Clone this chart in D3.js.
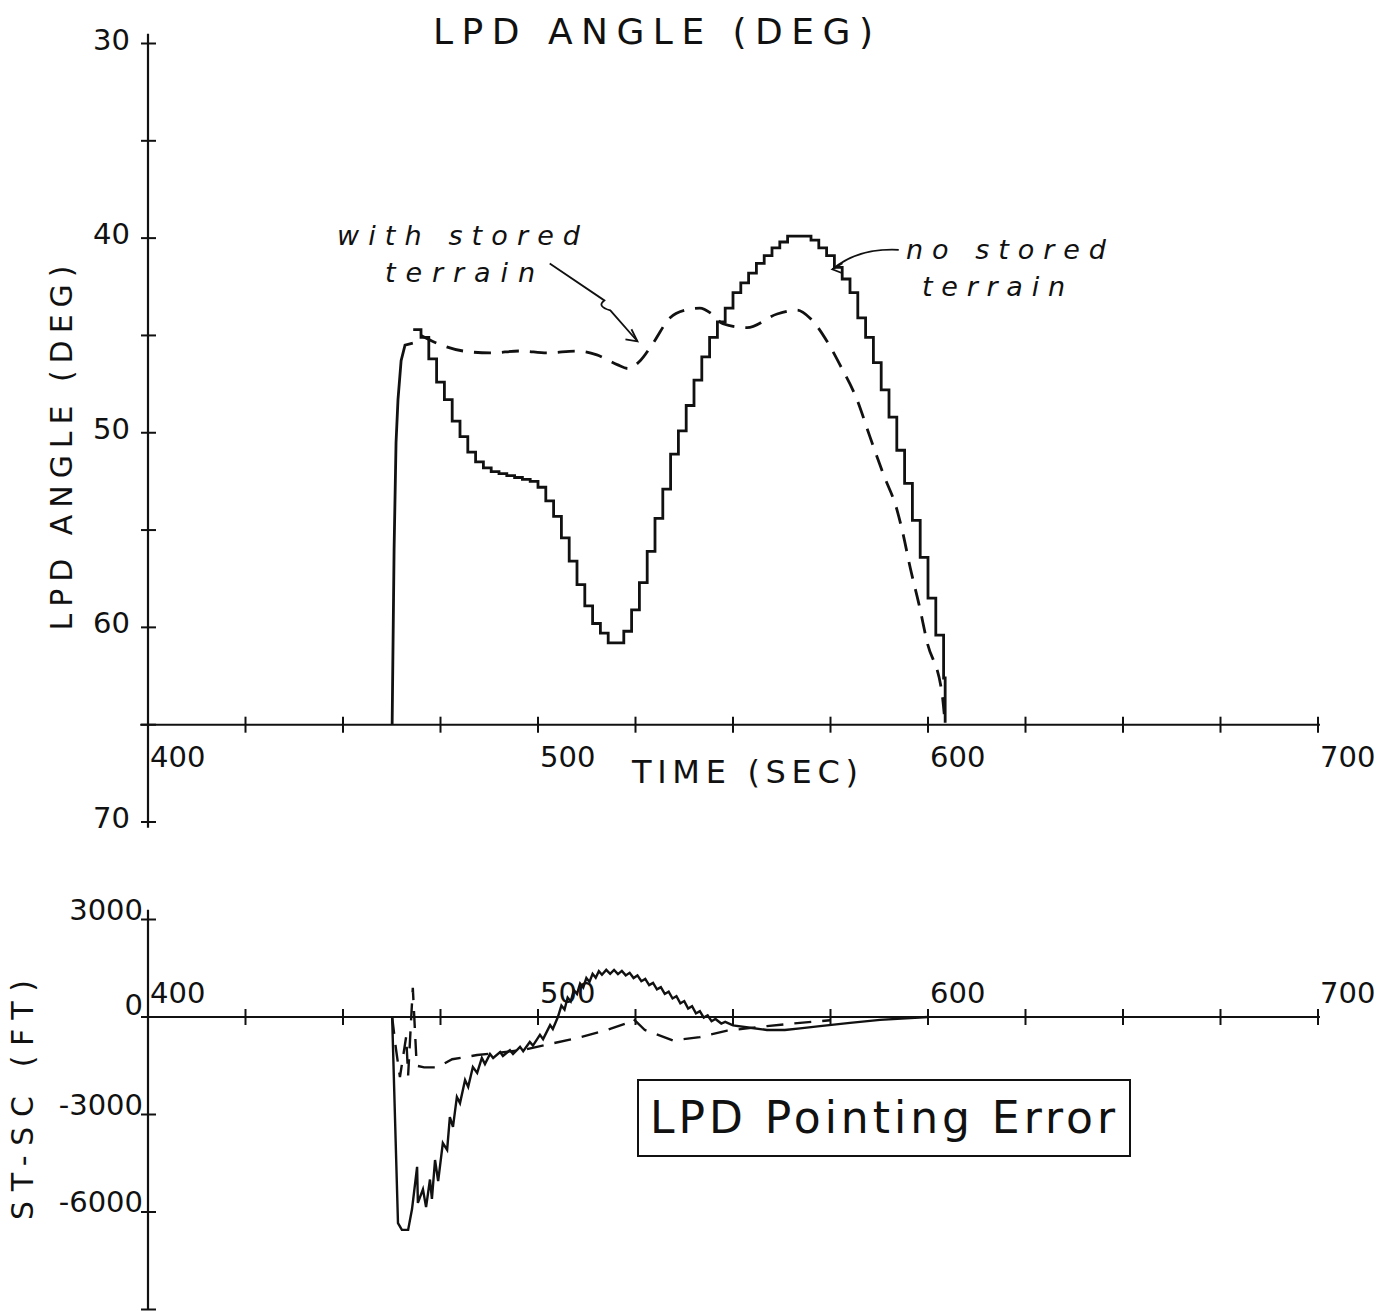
<!DOCTYPE html>
<html><head><meta charset="utf-8">
<script src="https://cdn.jsdelivr.net/npm/d3@7"></script>
<style>
body{margin:0;background:#fff;}
svg{display:block;}
text{font-family:"DejaVu Sans","Liberation Sans",sans-serif;fill:#111;}
</style></head><body>
<svg id="c" width="1388" height="1314"></svg>
<script>
// ---------- DATA ----------
const xTicks = [400,425,450,475,500,525,550,575,600,625,650,675,700];
const xTickLabels = [400,500,600,700];
const angleTicks = [30,35,40,45,50,55,60,65,70];
const angleTickLabels = [30,40,50,60,70];
const errTicks = [3000,0,-3000,-6000,-9000];
const errTickLabels = ["3000","0","-3000","-6000"];

// LPD angle, no stored terrain: initial rise (sec, deg)
const riseT = [462.6,463.1,463.6,464.1,464.9,465.9,467.9];
const riseV = [65,56,50.5,48.3,46.3,45.5,45.4];
// LPD angle, no stored terrain: staircase (sec, deg)
const stepT = [468,470,472,474,476,478,480,482,484,486,488,490,492,494,496,498,500,502,504,506,508,510,512,514,516,518,520,522,524,526,528,530,532,534,536,538,540,542,544,546,548,550,552,554,556,558,560,562,564,566,568,570,572,574,576,578,580,582,584,586,588,590,592,594,596,598,600,602,604,604.4];
const stepV = [44.7,45.1,46.2,47.4,48.3,49.4,50.2,51.0,51.5,51.8,52.0,52.1,52.2,52.3,52.4,52.5,52.8,53.5,54.3,55.4,56.6,57.8,58.9,59.8,60.3,60.8,60.8,60.2,59.1,57.7,56.1,54.4,52.9,51.1,49.9,48.6,47.3,46.1,45.1,44.3,43.6,42.8,42.3,41.8,41.3,40.9,40.5,40.2,39.9,39.9,39.9,40.1,40.5,40.9,41.5,42.1,42.8,44.1,45.1,46.4,47.8,49.2,50.9,52.6,54.5,56.4,58.5,60.4,62.6,64.9];
// LPD angle, with stored terrain (sec, deg)
const storedT = [470.0,474.1,480.8,487.7,495.4,502.3,510.0,515.1,520.3,523.1,526.2,529.5,533.8,537.7,541.5,544.6,547.4,553.6,561.3,566.4,569.7,574.1,577.4,581.8,585.1,588.5,592.1,593.6,595.4,597.9,599.7,603.6,604.4];
const storedV = [45.0,45.4,45.8,45.9,45.8,45.9,45.8,46.0,46.5,46.7,46.3,45.4,44.1,43.7,43.6,43.9,44.4,44.6,43.9,43.7,44.1,45.3,46.5,48.3,50.2,52.1,54.0,55.2,56.9,59.0,60.7,63.4,65.0];

// Pointing error ST-SC (ft), no stored terrain
const errT = [462.6,464.1,465.1,466.7,467.7,469.0,469.2,470.5,471.3,472.3,472.8,473.6,474.4,475.6,476.7,477.4,478.2,479.2,480.0,481.3,482.1,483.3,484.4,485.6,486.4,487.7,488.5,490.3,491.0,492.8,493.6,495.4,496.2,497.9,498.7,500.5,501.3,503.1,503.8,505.1,506.0,506.8,507.6,508.4,509.2,510.0,510.8,511.6,512.4,513.2,514.0,514.8,515.6,516.4,517.5,518.5,519.5,520.5,521.5,522.5,523.5,524.5,525.5,526.5,527.5,528.5,529.5,530.5,531.5,532.5,533.5,534.5,535.5,536.5,537.5,538.5,539.5,540.5,541.5,542.5,543.5,544.5,545.5,547,548,550,554.4,558.7,563.3,567.2,572.3,580.0,587.7,600.0];
const errV = [0,-6340,-6550,-6550,-5910,-4610,-5720,-5300,-5850,-5000,-5600,-4400,-5050,-3880,-4090,-3080,-3380,-2460,-2650,-1940,-2150,-1540,-1720,-1260,-1450,-1140,-1260,-1080,-1200,-1020,-1140,-920,-1050,-770,-880,-550,-680,-250,-370,0,350,230,600,480,830,710,1030,910,1200,1080,1330,1210,1410,1300,1450,1330,1450,1320,1420,1280,1360,1200,1280,1100,1170,980,1050,850,920,710,780,570,640,420,490,260,330,110,180,-20,50,-130,-60,-200,-150,-260,-330,-400,-400,-350,-280,-180,-90,0];
// Pointing error, with stored terrain
const errStoredT = [462.6,463.6,464.6,466.2,466.7,467.9,468.9,470.8,474.1,478.0,484.4,490.0,496.7,502.3,510.0,517.7,522.6,524.4,527.4,534.6,541.5,548.5,558.7,567.2,574.9];
const errStoredV = [0,-1000,-1850,-600,-1800,900,-1500,-1550,-1550,-1300,-1170,-1100,-1000,-850,-650,-400,-200,-50,-400,-720,-620,-420,-280,-180,-100];

// ---------- DRAW ----------
const svg = d3.select("#c");
const x = d3.scaleLinear().domain([400,700]).range([148,1318]);
const yA = d3.scaleLinear().domain([30,70]).range([43.5,822]);
const yE = d3.scaleLinear().domain([3000,-9000]).range([919.5,1309.5]);
const ink = "#111";

// top axes
const gA = svg.append("g");
gA.append("line").attr("x1",x(400)).attr("x2",x(400)).attr("y1",yA(29.5)).attr("y2",yA(70.3)).attr("stroke",ink).attr("stroke-width",2.2);
gA.append("line").attr("x1",x(398)).attr("x2",x(700.5)).attr("y1",yA(65)).attr("y2",yA(65)).attr("stroke",ink).attr("stroke-width",2);
gA.selectAll(".yt").data(angleTicks).join("line").attr("x1",x(400)-7).attr("x2",x(400)+8).attr("y1",d=>yA(d)).attr("y2",d=>yA(d)).attr("stroke",ink).attr("stroke-width",2);
gA.selectAll(".xt").data(xTicks).join("line").attr("x1",d=>x(d)).attr("x2",d=>x(d)).attr("y1",yA(65)-8).attr("y2",yA(65)+8).attr("stroke",ink).attr("stroke-width",2);
gA.selectAll(".yl").data(angleTickLabels).join("text").attr("x",x(400)-18).attr("y",d=>yA(d)+6).attr("text-anchor","end").attr("font-size",29).text(d=>d);
gA.selectAll(".xl").data(xTickLabels).join("text").attr("x",d=>x(d)+2).attr("y",yA(65)+42).attr("font-size",29).text(d=>d);

// top lines
const lineA = d3.line().x(d=>x(d[0])).y(d=>yA(d[1]));
svg.append("path").datum(d3.zip(riseT,riseV)).attr("d",lineA).attr("fill","none").attr("stroke",ink).attr("stroke-width",2.8);
svg.append("path").datum(d3.zip(stepT,stepV)).attr("d",lineA.curve(d3.curveStepAfter)).attr("fill","none").attr("stroke",ink).attr("stroke-width",2.8);
svg.append("path").datum(d3.zip(storedT,storedV)).attr("d",d3.line().x(d=>x(d[0])).y(d=>yA(d[1])).curve(d3.curveMonotoneX)).attr("fill","none").attr("stroke",ink).attr("stroke-width",2.8).attr("stroke-dasharray","17,11");

// bottom axes
const gE = svg.append("g");
gE.append("line").attr("x1",x(400)).attr("x2",x(400)).attr("y1",yE(3300)).attr("y2",yE(-9000)).attr("stroke",ink).attr("stroke-width",2.2);
gE.append("line").attr("x1",x(400)).attr("x2",x(700.5)).attr("y1",yE(0)).attr("y2",yE(0)).attr("stroke",ink).attr("stroke-width",2);
gE.selectAll(".yt").data(errTicks).join("line").attr("x1",x(400)-7).attr("x2",x(400)+8).attr("y1",d=>yE(d)).attr("y2",d=>yE(d)).attr("stroke",ink).attr("stroke-width",2);
gE.selectAll(".xt").data(xTicks).join("line").attr("x1",d=>x(d)).attr("x2",d=>x(d)).attr("y1",yE(0)-8).attr("y2",yE(0)+8).attr("stroke",ink).attr("stroke-width",2);
gE.selectAll(".yl").data(errTickLabels).join("text").attr("x",x(400)-5).attr("y",d=>yE(+d)+(d==="0"?-2:0)).attr("text-anchor","end").attr("font-size",29).text(d=>d);
gE.selectAll(".xl").data(xTickLabels).join("text").attr("x",d=>x(d)+2).attr("y",yE(0)-14).attr("font-size",29).text(d=>d);

const lineE = d3.line().x(d=>x(d[0])).y(d=>yE(d[1]));
svg.append("path").datum(d3.zip(errT,errV)).attr("d",lineE).attr("fill","none").attr("stroke",ink).attr("stroke-width",2.4);
svg.append("path").datum(d3.zip(errStoredT,errStoredV)).attr("d",lineE).attr("fill","none").attr("stroke",ink).attr("stroke-width",2.4).attr("stroke-dasharray","17,11");

// titles / labels
svg.append("text").attr("x",433).attr("y",44).attr("font-size",36).attr("textLength",440).attr("lengthAdjust","spacing").text("LPD ANGLE (DEG)");
svg.append("text").attr("transform","translate(72,448) rotate(-90)").attr("text-anchor","middle").attr("font-size",30).attr("textLength",365).attr("lengthAdjust","spacing").text("LPD ANGLE (DEG)");
svg.append("text").attr("x",632).attr("y",783).attr("font-size",32).attr("textLength",226).attr("lengthAdjust","spacing").text("TIME (SEC)");
svg.append("text").attr("transform","translate(33,1100) rotate(-90)").attr("text-anchor","middle").attr("font-size",30).attr("textLength",240).attr("lengthAdjust","spacing").text("ST-SC (FT)");

// annotation: with stored terrain
svg.append("text").attr("x",337).attr("y",245).attr("font-size",27).attr("font-style","italic").attr("textLength",243).attr("lengthAdjust","spacing").text("with stored");
svg.append("text").attr("x",385).attr("y",282).attr("font-size",27).attr("font-style","italic").attr("textLength",150).attr("lengthAdjust","spacing").text("terrain");
svg.append("path").attr("d",`M${x(503)},${yA(41.3)} L${x(517)},${yA(43.2)} q-8,6 6,10 L${x(525.5)},${yA(45.3)}`).attr("fill","none").attr("stroke",ink).attr("stroke-width",1.8);
svg.append("path").attr("d",`M${x(525.5)-12},${yA(45.3)-2} L${x(525.5)},${yA(45.3)} L${x(525.5)-6},${yA(45.3)-12}`).attr("fill","none").attr("stroke",ink).attr("stroke-width",1.8);

// annotation: no stored terrain
svg.append("text").attr("x",906).attr("y",259).attr("font-size",27).attr("font-style","italic").attr("textLength",200).attr("lengthAdjust","spacing").text("no stored");
svg.append("text").attr("x",922).attr("y",296).attr("font-size",27).attr("font-style","italic").attr("textLength",143).attr("lengthAdjust","spacing").text("terrain");
svg.append("path").attr("d",`M${x(592.5)},${yA(40.6)} Q${x(582)},${yA(40.5)} ${x(575.5)},${yA(41.6)}`).attr("fill","none").attr("stroke",ink).attr("stroke-width",1.8);
svg.append("path").attr("d",`M${x(575.5)+10},${yA(41.6)-6} L${x(575.5)},${yA(41.6)} L${x(575.5)+10},${yA(41.6)+4}`).attr("fill","none").attr("stroke",ink).attr("stroke-width",1.8);

// boxed label
svg.append("rect").attr("x",638).attr("y",1080).attr("width",492).attr("height",76).attr("fill","none").attr("stroke",ink).attr("stroke-width",2);
svg.append("text").attr("x",650).attr("y",1133).attr("font-size",44).attr("textLength",465).attr("lengthAdjust","spacing").text("LPD Pointing Error");
</script></body></html>
